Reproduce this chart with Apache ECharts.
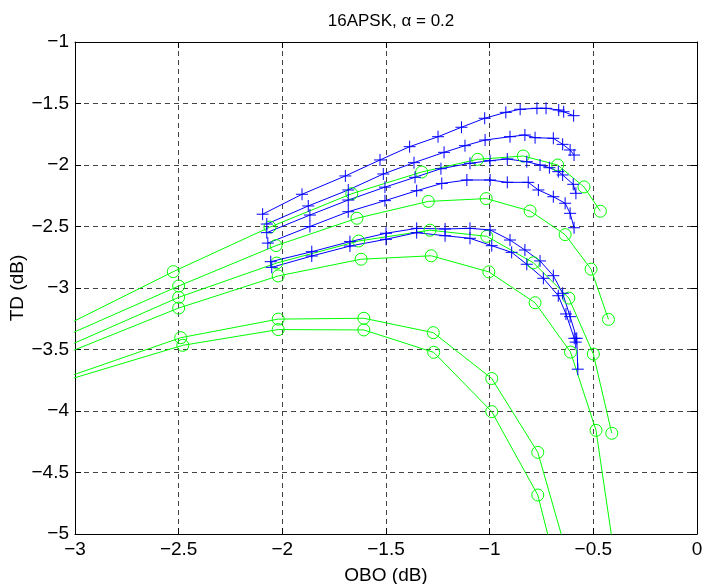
<!DOCTYPE html>
<html>
<head>
<meta charset="utf-8">
<script src="https://cdn.jsdelivr.net/npm/echarts@6/dist/echarts.min.js"></script>
<style>
html,body{margin:0;padding:0;background:#fff;}
#c{width:709px;height:584px;}
</style>
</head>
<body>
<div id="c"></div>
<script>
// Tick values
const xTicks = [-3, -2.5, -2, -1.5, -1, -0.5, 0];
const yTicks = [-5, -4.5, -4, -3.5, -3, -2.5, -2, -1.5, -1];

// Blue (+) curves
const blue1 = [[-2.095,-2.40],[-1.905,-2.238],[-1.696,-2.089],[-1.529,-1.959],[-1.386,-1.851],[-1.249,-1.77],[-1.136,-1.693],[-1.024,-1.62],[-0.922,-1.572],[-0.853,-1.547],[-0.772,-1.539],[-0.728,-1.539],[-0.667,-1.553],[-0.643,-1.567],[-0.595,-1.599]];
const blue2 = [[-2.075,-2.48],[-1.875,-2.333],[-1.682,-2.203],[-1.513,-2.073],[-1.365,-1.981],[-1.22,-1.897],[-1.119,-1.843],[-1.022,-1.797],[-0.902,-1.77],[-0.83,-1.756],[-0.781,-1.778],[-0.693,-1.783],[-0.648,-1.832],[-0.612,-1.878],[-0.593,-1.919]];
const blue3 = [[-2.075,-2.55],[-1.867,-2.407],[-1.682,-2.285],[-1.505,-2.18],[-1.36,-2.10],[-1.235,-2.03],[-1.095,-1.986],[-0.998,-1.965],[-0.915,-1.951],[-0.821,-1.973],[-0.757,-2.0],[-0.712,-2.022],[-0.669,-2.054],[-0.648,-2.081],[-0.597,-2.157],[-0.584,-2.23]];
const blue4 = [[-2.07,-2.635],[-1.867,-2.50],[-1.682,-2.38],[-1.505,-2.29],[-1.352,-2.209],[-1.231,-2.15],[-1.11,-2.122],[-0.998,-2.122],[-0.915,-2.141],[-0.814,-2.141],[-0.765,-2.203],[-0.693,-2.258],[-0.636,-2.311],[-0.612,-2.393],[-0.593,-2.51]];
const blue5 = [[-2.056,-2.786],[-1.858,-2.705],[-1.674,-2.623],[-1.5,-2.555],[-1.352,-2.515],[-1.215,-2.52],[-1.095,-2.515],[-0.998,-2.528],[-0.902,-2.61],[-0.83,-2.691],[-0.757,-2.78],[-0.693,-2.9],[-0.648,-3.043],[-0.612,-3.233],[-0.58,-3.409],[-0.575,-3.66]];
const blue6 = [[-2.051,-2.832],[-1.858,-2.74],[-1.674,-2.659],[-1.5,-2.604],[-1.352,-2.55],[-1.215,-2.575],[-1.095,-2.596],[-0.99,-2.656],[-0.894,-2.71],[-0.821,-2.807],[-0.741,-2.921],[-0.669,-3.063],[-0.632,-3.211],[-0.592,-3.409],[-0.585,-3.44]];

// Green (o) curves
const green1 = [[-3.1,-3.35],[-2.526,-2.867],[-2.06,-2.505],[-1.665,-2.233],[-1.328,-2.057],[-1.058,-1.954],[-0.838,-1.927],[-0.672,-2.0],[-0.545,-2.178],[-0.466,-2.376]];
const green2 = [[-3.1,-3.43],[-2.5,-2.984],[-2.03,-2.655],[-1.64,-2.433],[-1.296,-2.296],[-1.017,-2.273],[-0.805,-2.374],[-0.636,-2.566],[-0.511,-2.847],[-0.427,-3.255]];
const green3 = [[-3.1,-3.52],[-2.5,-3.076],[-2.027,-2.797],[-1.632,-2.618],[-1.288,-2.53],[-1.014,-2.58],[-0.789,-2.795],[-0.618,-3.082],[-0.5,-3.537],[-0.411,-4.181]];
const green4 = [[-3.1,-3.57],[-2.5,-3.163],[-2.02,-2.902],[-1.62,-2.766],[-1.282,-2.738],[-1.004,-2.869],[-0.781,-3.12],[-0.61,-3.521],[-0.487,-4.157],[-0.37,-5.5]];
const green5 = [[-3.1,-3.76],[-2.49,-3.404],[-2.02,-3.253],[-1.607,-3.246],[-1.272,-3.363],[-0.99,-3.736],[-0.768,-4.336],[-0.57,-5.5]];
const green6 = [[-3.1,-3.78],[-2.48,-3.466],[-2.02,-3.338],[-1.607,-3.341],[-1.27,-3.523],[-0.99,-4.005],[-0.768,-4.683],[-0.645,-5.5]];

const blueSeries = [blue1, blue2, blue3, blue4, blue5, blue6];
const greenSeries = [green1, green2, green3, green4, green5, green6];

const FONT = "'Liberation Sans', Arial, sans-serif";
const fmt = v => String(v).replace('-', '\u2212');

const BLUE = '#0000ff', GREEN = '#00ff00';
const plusPath = 'path://M0,5L10,5M5,0L5,10';

const series = [];
greenSeries.forEach(d => series.push({
  type: 'line', data: d, clip: true, silent: true,
  symbol: 'circle', symbolSize: 12,
  itemStyle: { color: 'none', borderColor: GREEN, borderWidth: 1 },
  lineStyle: { color: GREEN, width: 1 }
}));
blueSeries.forEach(d => series.push({
  type: 'line', data: d, clip: true, silent: true,
  symbol: plusPath, symbolSize: 12,
  itemStyle: { color: 'none', borderColor: BLUE, borderWidth: 1 },
  lineStyle: { color: BLUE, width: 1 }
}));

const axisLine = { show: true, onZero: false, lineStyle: { color: '#000', width: 1 } };
const tick = { show: true, inside: true, length: 6, lineStyle: { color: '#000' } };
const split = { show: true, lineStyle: { color: '#444', type: [5, 4], width: 1 } };
const lbl = { show: true, color: '#000', fontSize: 19, fontFamily: FONT, formatter: fmt };

const chart = echarts.init(document.getElementById('c'), null, { renderer: 'canvas' });
chart.setOption({
  animation: false,
  backgroundColor: '#fff',
  textStyle: { fontFamily: FONT },
  title: {
    text: '16APSK, \u03b1 = 0.2',
    left: 386, top: 8, textAlign: 'center',
    textStyle: { fontSize: 17, fontWeight: 'normal', color: '#000', fontFamily: FONT }
  },
  grid: { left: 75, right: 12, top: 42, bottom: 50, containLabel: false, outerBoundsMode: 'none' },
  xAxis: [
    { type: 'value', min: xTicks[0], max: xTicks[xTicks.length - 1], interval: 0.5, position: 'bottom',
      axisLine, axisTick: tick, splitLine: split, axisLabel: Object.assign({ margin: 6 }, lbl),
      name: 'OBO (dB)', nameLocation: 'middle', nameGap: 32, nameMoveOverlap: false,
      nameTextStyle: { fontSize: 19, color: '#000', fontFamily: FONT } },
    { type: 'value', min: xTicks[0], max: xTicks[xTicks.length - 1], interval: 0.5, position: 'top',
      axisLine, axisTick: tick, splitLine: { show: false }, axisLabel: { show: false } }
  ],
  yAxis: [
    { type: 'value', min: yTicks[0], max: yTicks[yTicks.length - 1], interval: 0.5, position: 'left',
      axisLine, axisTick: tick, splitLine: split, axisLabel: Object.assign({ margin: 6 }, lbl),
      name: 'TD (dB)', nameLocation: 'middle', nameGap: 57, nameRotate: 90, nameMoveOverlap: false,
      nameTextStyle: { fontSize: 19, color: '#000', fontFamily: FONT, verticalAlign: 'middle' } },
    { type: 'value', min: yTicks[0], max: yTicks[yTicks.length - 1], interval: 0.5, position: 'right',
      axisLine, axisTick: tick, splitLine: { show: false }, axisLabel: { show: false } }
  ],
  series
});
</script>
</body>
</html>
